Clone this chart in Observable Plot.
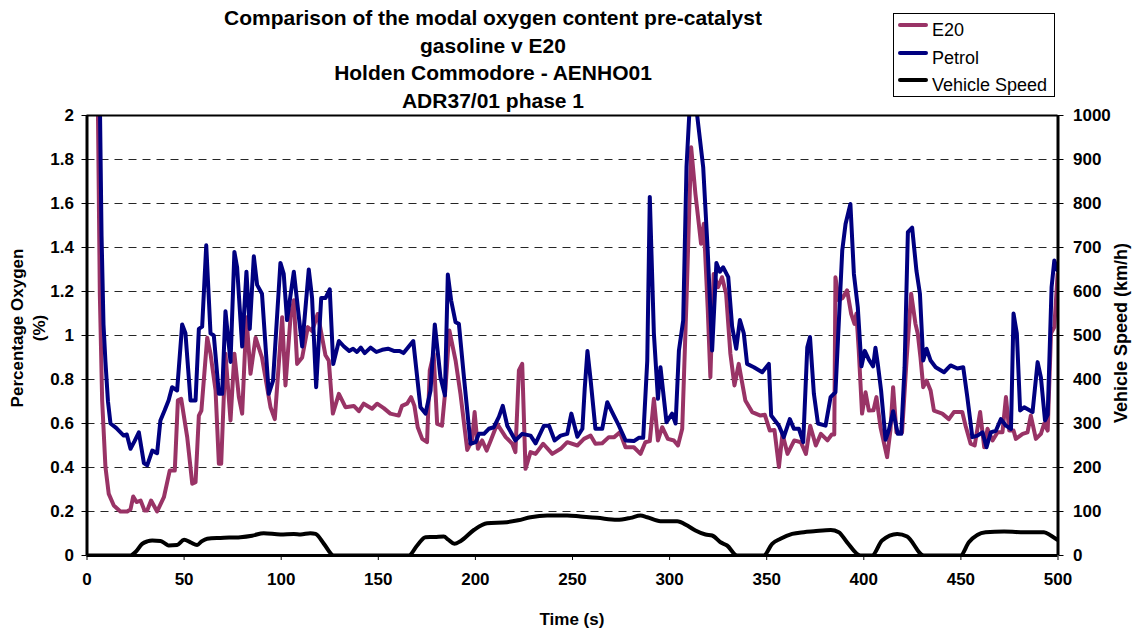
<!DOCTYPE html>
<html><head><meta charset="utf-8">
<script src="https://cdn.jsdelivr.net/npm/d3@7"></script>
<script src="https://cdn.jsdelivr.net/npm/@observablehq/plot@0.6"></script>
<style>
body{margin:0;background:#fff;font-family:Arial,"Liberation Sans",sans-serif;color:#000;}
#wrap{position:relative;width:1135px;height:635px;}
#wrap svg{position:absolute;left:0;top:0;}
#title{position:absolute;left:193px;width:600px;top:4px;text-align:center;font-weight:bold;font-size:21px;line-height:27.5px;}
#legend{position:absolute;left:893px;top:13px;width:162px;height:84px;border:1.5px solid #000;box-sizing:border-box;background:#fff;}
.li{position:absolute;left:4px;height:20px;font-size:18px;line-height:20px;white-space:nowrap;}
.li span.sw{display:inline-block;width:30px;height:4px;vertical-align:middle;margin-right:4px;position:relative;top:-6px;border-radius:2px;}
.ytitle{position:absolute;font-weight:bold;font-size:17px;text-align:center;line-height:22px;white-space:nowrap;}
</style></head>
<body>
<div id="wrap">
<div id="title">Comparison of the modal oxygen content pre-catalyst<br>gasoline v E20<br>Holden Commodore - AENHO01<br>ADR37/01 phase 1</div>
</div>
<script>
// ---- data ----
const e20Time = [5.3,6.6,7.8,9.5,11.2,13.8,17.2,20.7,22.4,23.8,25.5,27.6,29.6,31,33,36.1,39.6,42.6,45.2,46.8,48.5,51.6,54.2,55.9,57.6,58.9,61.9,63.6,66.2,67.9,69.1,71.3,73.9,75.9,78.2,79.9,82.1,84.2,86.8,90.1,94.5,96.7,100.5,102.2,104.8,106.5,108.2,110.8,113.7,115.9,118.8,122.8,124.5,126.6,129.7,133.1,137.4,140,142.5,146.8,149.4,152.8,156.2,160.5,162.2,164.8,166.9,168.6,170.3,172.6,175.1,176.5,178.5,180.3,182.8,184.5,186.6,189.8,192.3,195.8,198.3,199.6,201.3,203.5,205.8,207.9,211.2,215.6,219,220.6,222.4,224.1,225.8,228.4,231,234.9,239.6,243.9,247.3,252.5,255.9,259.3,261.8,265.3,268.7,271.5,274.4,277.3,281.6,285,287.5,289.8,291.9,294,296.2,299.1,302.2,304.3,306.5,308.7,311.1,313.3,316.2,317.6,319.6,321,322.7,325,327,329.1,331.3,333.4,335.6,339,342.5,346.8,349,351.6,354,356.3,358.1,360.7,364.2,367.6,370.2,372.4,375.3,377.9,381.3,383.5,384.8,385.4,387.1,389,391.4,393.5,395.2,396.2,397.4,399.1,400.9,402.6,405,406.5,408.6,412,413.7,415.1,416.8,419.7,422,424.4,426.6,427.8,429.2,430.6,432.3,434.4,436.1,440.4,443.8,446.4,450.7,452.4,455,457.1,459.9,462,463.7,466.3,468.9,471.4,473.2,474.9,477.1,478.3,481.8,484.3,486,488.6,491.2,492.9,494.7,496.4,498.1,499.8];
const e20Oxygen = [2.3,1.19,0.705,0.402,0.28,0.227,0.2,0.2,0.21,0.268,0.243,0.25,0.205,0.205,0.25,0.2,0.265,0.386,0.386,0.705,0.712,0.538,0.326,0.333,0.636,0.659,0.99,0.917,0.75,0.417,0.417,0.917,0.614,0.917,0.72,0.645,1.083,0.826,0.99,0.9,0.674,0.62,1.083,0.773,1.083,1.16,0.871,0.9,1.038,1.02,1.098,0.91,0.886,0.645,0.735,0.674,0.68,0.656,0.69,0.667,0.69,0.67,0.645,0.636,0.68,0.69,0.72,0.68,0.583,0.53,0.515,0.841,0.917,0.598,0.59,0.75,1.023,0.886,0.735,0.48,0.523,0.652,0.485,0.523,0.477,0.523,0.598,0.538,0.508,0.47,0.841,0.871,0.394,0.47,0.462,0.508,0.462,0.485,0.515,0.5,0.53,0.545,0.508,0.51,0.538,0.538,0.56,0.492,0.492,0.462,0.515,0.52,0.712,0.523,0.583,0.53,0.523,0.5,0.576,1.16,1.856,1.644,1.417,1.508,1.129,0.811,1.28,1.22,1.265,1.19,0.917,0.773,0.871,0.705,0.652,0.636,0.64,0.568,0.57,0.402,0.553,0.462,0.523,0.515,0.462,0.59,0.5,0.553,0.523,0.55,0.55,1.265,1.16,1.17,1.205,1.098,1.053,1.1,0.932,0.645,0.742,0.659,0.66,0.72,0.583,0.447,0.568,0.765,0.56,0.56,0.886,1.19,1.053,1.008,0.9,0.765,0.795,0.75,0.659,0.645,0.62,0.652,0.652,0.59,0.508,0.5,0.652,0.492,0.576,0.523,0.56,0.56,0.72,0.568,0.568,0.53,0.553,0.56,0.636,0.53,0.553,0.6,0.568,1.01,1.038,1.28];

const petrolTime = [6.3,7.5,8.5,9.5,10.8,12.1,15,18.9,20.5,22.4,24.5,26.7,29.3,31,33.6,35,36.1,37.8,40,42,43.8,46.4,49,50.7,53.3,55.9,57.6,59.3,61.4,63.6,65.3,67.9,69.6,71.3,73.9,75.9,77.3,79.9,82.1,83.8,85.9,87.6,90.1,93.6,95.8,99.6,101.3,103,106.5,110.8,114.2,115.9,118,120.6,122.8,125,126.8,129.7,132.3,135,137,139,141,143,146,149,152,155,158,161,163,165.7,168,171.7,174.3,176.9,179.1,182,184.3,185.8,187.5,189.8,191.5,194.1,197.5,200.1,201.8,204.4,206.9,209.5,212.1,214.1,216.4,220.6,224.1,228.4,231,235.3,237.9,240.8,243.9,247.3,249.4,252.5,255.1,256.3,257.7,259.3,261.8,265.3,267.9,270.4,273.9,277.3,281.6,284.1,286.4,288.5,289.8,291.9,294,295.3,298.4,301.3,303.1,304.8,307,308.7,310.4,312,314.2,317.3,319.6,321.9,324.1,325.9,327.6,330.2,332.2,334.3,336.2,338.2,339.9,343.4,347.7,351.1,352.3,356.3,358.8,361.9,364,366.6,368.8,370.9,372.3,374.3,376.4,380.3,382.9,385.4,388.9,390.6,393.1,394.9,396.9,398.8,400.5,402.6,404.8,406,407.2,408.9,411.2,412.9,415.1,417.5,419.3,421,422.7,424.9,427.1,428.9,430.6,432.3,434.4,437,441.3,444.7,448.2,451.2,453.3,455.9,458.5,461.1,463.2,465.4,468,470.6,473.2,475.8,477.1,478.8,480.5,482.6,486.9,489.5,491.2,493.3,494.7,496.7,498.1,499.8];
const petrolOxygen = [2.3,1.45,1.05,0.88,0.7,0.6,0.58,0.545,0.55,0.485,0.52,0.56,0.42,0.41,0.477,0.47,0.465,0.614,0.66,0.705,0.765,0.75,1.05,1.01,0.705,0.705,1.03,1.04,1.41,1.01,1.0,0.735,0.735,1.11,0.88,1.38,1.31,0.95,1.29,1.03,1.36,1.23,1.19,0.735,0.795,1.33,1.28,1.07,1.29,0.95,1.3,1.17,0.765,1.17,1.17,1.21,0.87,0.975,0.95,0.93,0.94,0.925,0.945,0.92,0.945,0.925,0.935,0.94,0.93,0.93,0.92,0.95,0.975,0.674,0.645,0.75,1.05,0.81,0.728,1.277,1.16,1.06,1.053,0.81,0.508,0.515,0.553,0.553,0.576,0.583,0.63,0.68,0.59,0.523,0.553,0.545,0.51,0.59,0.59,0.523,0.545,0.553,0.645,0.54,0.576,0.76,0.93,0.8,0.576,0.576,0.697,0.652,0.59,0.523,0.52,0.535,0.535,0.886,1.63,1.01,0.712,0.856,0.606,0.645,0.6,0.932,1.068,1.765,2.05,2.1,2.0,1.765,1.39,0.932,1.33,1.29,1.31,1.265,1.04,0.94,1.07,1.01,0.871,0.856,0.833,0.871,0.636,0.59,0.538,0.62,0.576,0.576,0.515,0.947,0.993,0.735,0.6,0.59,0.72,0.742,1.386,1.507,1.598,1.28,1.129,0.86,0.93,0.89,0.86,0.944,0.871,0.75,0.526,0.57,0.656,0.553,0.553,0.856,1.47,1.49,1.295,1.19,0.886,0.94,0.886,0.856,0.833,0.864,0.85,0.856,0.72,0.538,0.545,0.56,0.492,0.56,0.567,0.62,0.59,0.575,1.1,1.01,0.659,0.674,0.652,0.879,0.81,0.614,0.64,1.22,1.341,1.295];

const speedTime = [0,22.4,25,28.4,31,33.6,37.8,40,42,46.4,50,53.3,56.7,59,61.9,68.7,79,85,91,99.6,106.5,110,115,117.7,122,127.1,165.7,170,174.3,179,183.7,186,189.2,192.3,199.2,206,216.3,222,228.4,237,247.3,254.1,262.7,273,279.9,285,288.5,295.3,303.9,309.1,313.3,318.5,321.9,326.2,329.6,334.8,348.5,352.8,357.1,363.1,369.1,374.3,383,387.1,391.4,398.3,404.3,409.4,417.2,422.3,430.9,449.8,454.1,462.7,472.2,480.8,492.8,496.3,499.7];
const speedKmh = [0,0,8,26.5,32,34,33,28,23,24,35.6,30,24,32,38,40,41.7,45,50.8,48,49,48,50.8,49,26.5,0,0,22.7,41.7,42,43.2,36,26.5,32.6,58,73.5,75.8,80,87,91,91,88.6,85.6,81,85.6,91,87,78,78,68,56.8,47.7,45.5,30,22.7,0,0,26.5,38,49,53,55,58,53,30,0,0,34,49,43,0,0,30,53,54.5,53,53,45.5,35.6];

const xTicks = [0,50,100,150,200,250,300,350,400,450,500];
const oxygenTicks = [0,0.2,0.4,0.6,0.8,1,1.2,1.4,1.6,1.8,2];
const gridLines = [0.2,0.4,0.6,0.8,1,1.2,1.4,1.6,1.8];
const speedPerOxygenUnit = 500; // right axis 0..1000 km/h shares the 0..2 % scale

const e20 = e20Time.map((t,i)=>({t, o:e20Oxygen[i]}));
const petrol = petrolTime.map((t,i)=>({t, o:petrolOxygen[i]}));
const speed = speedTime.map((t,i)=>({t, v:speedKmh[i]}));

const chart = Plot.plot({
  width:1135, height:635,
  marginLeft:86.5, marginRight:77.5, marginTop:115, marginBottom:80,
  x:{domain:[0,500]},
  y:{domain:[0,2]},
  style:{fontFamily:"Arial, 'Liberation Sans', sans-serif", fontSize:"17px", fontWeight:"bold", color:"#000", background:"transparent", overflow:"visible"},
  marks:[
    Plot.ruleY(gridLines, {stroke:"#000", strokeOpacity:0.85, strokeWidth:1, strokeDasharray:"8,6"}),
    Plot.line(e20, {x:"t", y:"o", stroke:"#993366", strokeWidth:4, clip:true}),
    Plot.line(petrol, {x:"t", y:"o", stroke:"#000080", strokeWidth:4, clip:true}),
    Plot.line(speed, {x:"t", y:d=>d.v/speedPerOxygenUnit, stroke:"#000", strokeWidth:4, curve:"monotone-x", clip:true}),
    Plot.ruleY([2], {stroke:"#000", strokeWidth:2}),
    Plot.ruleY([0], {stroke:"#000", strokeWidth:3}),
    Plot.ruleX([0,500], {stroke:"#000", strokeWidth:3}),
    Plot.axisX({ticks:xTicks, tickSize:5, tickPadding:12, label:null, tickFormat:d=>String(d)}),
    Plot.axisY({anchor:"left", ticks:oxygenTicks, tickSize:5, tickPadding:8, label:null, tickFormat:d=>String(+d.toFixed(1))}),
    Plot.axisY({anchor:"right", ticks:oxygenTicks, tickSize:5, tickPadding:10, label:null, tickFormat:d=>String(Math.round(d*speedPerOxygenUnit))})
  ]
});
const wrap = document.getElementById("wrap");
wrap.insertBefore(chart, wrap.firstChild);

// legend
const legendItems = [["E20","#993366"],["Petrol","#000080"],["Vehicle Speed","#000"]];
const lg = document.createElement("div"); lg.id="legend";
legendItems.forEach(([name,col],i)=>{
  const d=document.createElement("div"); d.className="li"; d.style.top=(6+i*27.5)+"px";
  d.innerHTML=`<span class="sw" style="background:${col}"></span>${name}`;
  lg.appendChild(d);
});
wrap.appendChild(lg);

// axis titles
function addTitle(html, cx, cy, rot, size){
  const d=document.createElement("div"); d.className="ytitle"; d.innerHTML=html;
  if(size) d.style.fontSize=size+"px";
  wrap.appendChild(d);
  const w=d.offsetWidth, h=d.offsetHeight;
  d.style.left=(cx-w/2)+"px"; d.style.top=(cy-h/2)+"px";
  if(rot) d.style.transform=`rotate(${rot}deg)`;
}
addTitle("Percentage Oxygen<br>(%)", 29, 328, -90, 17);
addTitle("Vehicle Speed (km/h)", 1121, 333, -90, 18);
addTitle("Time (s)", 572, 620, 0, 17);
</script>
</body></html>
